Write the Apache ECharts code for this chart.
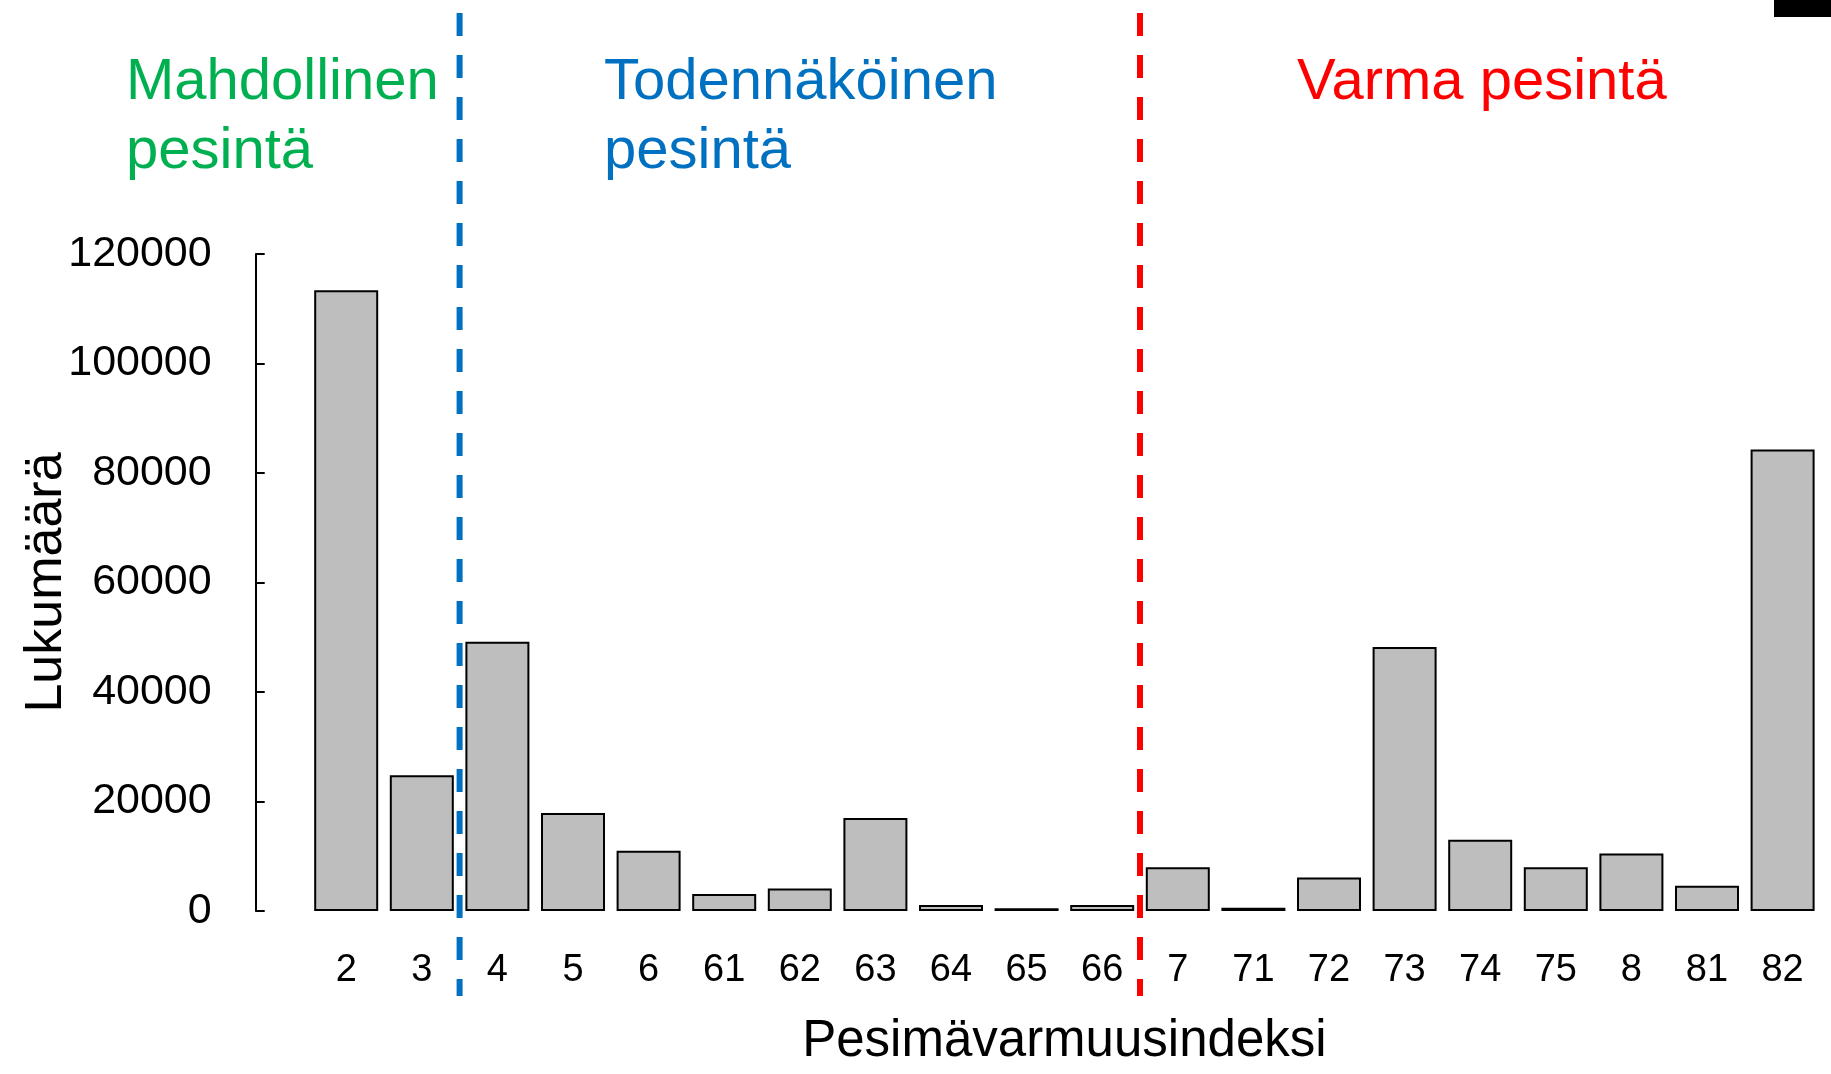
<!DOCTYPE html>
<html>
<head>
<meta charset="utf-8">
<script src="https://cdn.jsdelivr.net/npm/echarts@6/dist/echarts.min.js"></script>
<style>
html,body{margin:0;padding:0;background:#fff;}
#chart{width:1831px;height:1074px;}
</style>
</head>
<body>
<div id="chart"></div>
<script>
// ---- data ----
const categories = ['2','3','4','5','6','61','62','63','64','65','66','7','71','72','73','74','75','8','81','82'];
const counts = [113400, 24800, 49200, 17900, 11000, 3100, 4100, 17000, 1100, 500, 1100, 8000, 600, 6100, 48200, 13000, 8000, 10500, 4600, 84300];
const yMin = 0, yMax = 120000, yStep = 20000;
const xTitle = 'Pesimävarmuusindeksi';
const yTitle = 'Lukumäärä';
const groupLabels = ['Mahdollinen\npesintä', 'Todennäköinen\npesintä', 'Varma pesintä'];
const groupColors = ['#00B050', '#0070C0', '#FF0000'];
// boundaries (category after which a dashed separator is drawn)
const separatorAfter = ['3', '66'];
const separatorColors = ['#0070C0', '#FF0000'];

const FONT = '"Liberation Sans", Arial, sans-serif';
const chart = echarts.init(document.getElementById('chart'), null, {renderer: 'canvas'});

const option = {
  animation: false,
  backgroundColor: '#ffffff',
  grid: {left: 308.4, right: 10.6, top: 254, bottom: 163, containLabel: false, outerBoundsMode: 'none'},
  xAxis: {
    type: 'category',
    data: categories,
    axisLine: {show: false},
    axisTick: {show: false},
    axisLabel: {fontSize: 38, lineHeight: 38, margin: 41, color: '#000', fontFamily: FONT, interval: 0},
    name: xTitle,
    nameLocation: 'middle',
    nameGap: 105,
    nameTextStyle: {fontSize: 51, lineHeight: 51, color: '#000', fontFamily: FONT}
  },
  yAxis: {
    type: 'value',
    min: yMin, max: yMax, interval: yStep,
    offset: 52.7,
    axisLine: {show: true, lineStyle: {color: '#000', width: 2}},
    axisTick: {show: true, inside: true, length: 9, lineStyle: {color: '#000', width: 2}},
    splitLine: {show: false},
    axisLabel: {fontSize: 43, color: '#000', margin: 44, fontFamily: FONT, formatter: v => String(v)},
    name: yTitle,
    nameLocation: 'middle',
    nameMoveOverlap: false,
    nameGap: 183,
    nameTextStyle: {fontSize: 52, lineHeight: 52, color: '#000', fontFamily: FONT}
  },
  series: [{
    type: 'bar',
    data: counts,
    barWidth: 64,
    itemStyle: {color: '#BEBEBE', borderColor: '#000', borderWidth: 2}
  }],
  graphic: [
    {type: 'text', id: 'g0', left: 126, top: 48, style: {text: groupLabels[0], fill: groupColors[0], font: '58px ' + FONT, lineHeight: 69}},
    {type: 'text', id: 'g1', left: 604, top: 48, style: {text: groupLabels[1], fill: groupColors[1], font: '58px ' + FONT, lineHeight: 69}},
    {type: 'text', id: 'g2', left: 1297, top: 48, style: {text: groupLabels[2], fill: groupColors[2], font: '58px ' + FONT, lineHeight: 69}},
    {type: 'rect', id: 'blk', shape: {x: 1774, y: 0, width: 57, height: 17}, style: {fill: '#000'}}
  ]
};
chart.setOption(option);

// dashed separators placed at category boundaries via the axis scale
const seps = separatorAfter.map((c, i) => {
  const idx = categories.indexOf(c);
  const a = chart.convertToPixel({xAxisIndex: 0}, categories[idx]);
  const b = chart.convertToPixel({xAxisIndex: 0}, categories[idx + 1]);
  const x = (a + b) / 2;
  return {type: 'line', id: 'sep' + i, z: 10,
    shape: {x1: x, y1: 13, x2: x, y2: 996},
    style: {stroke: separatorColors[i], lineWidth: 6, lineDash: [23, 19]}};
});
chart.setOption({graphic: seps});
</script>
</body>
</html>
